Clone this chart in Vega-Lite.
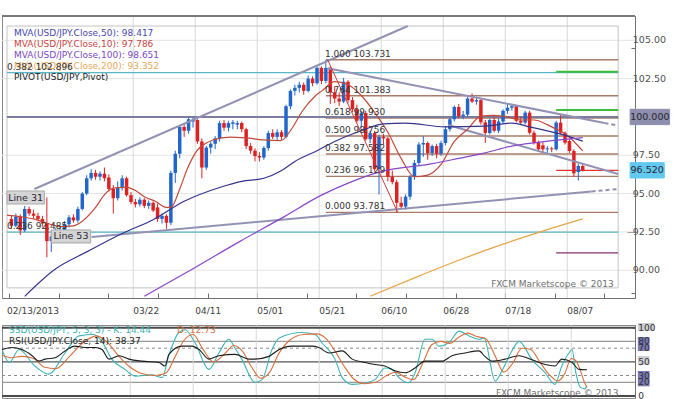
{
  "$schema": "https://vega.github.io/schema/vega-lite/v6.json",
  "background": "white",
  "padding": {"left": 0, "top": 14, "right": 0, "bottom": 0},
  "config": {
    "font": "DejaVu Sans",
    "view": {"stroke": "#8a8a8a", "strokeWidth": 1},
    "axis": {"labelFont": "DejaVu Sans", "title": null, "labelOverlap": false}
  },
  "spacing": 27,
  "bounds": "flush",
  "datasets": {
    "candles": [
      {"i":-1,"o":93.35,"h":93.6,"l":92.7,"c":92.9},
      {"i":0,"o":92.9,"h":93.7,"l":92.8,"c":93.5},
      {"i":1,"o":93.5,"h":93.65,"l":92.3,"c":92.6},
      {"i":2,"o":92.6,"h":94.2,"l":92.5,"c":94.0},
      {"i":3,"o":94.0,"h":94.15,"l":93.55,"c":93.7},
      {"i":4,"o":93.7,"h":93.95,"l":93.4,"c":93.55},
      {"i":5,"o":93.55,"h":93.75,"l":93.2,"c":93.35},
      {"i":6,"o":93.35,"h":93.55,"l":92.85,"c":93.05},
      {"i":7,"o":93.05,"h":94.75,"l":90.85,"c":91.9},
      {"i":8,"o":91.9,"h":92.4,"l":91.2,"c":92.2},
      {"i":9,"o":92.2,"h":92.75,"l":91.8,"c":92.45},
      {"i":10,"o":92.45,"h":92.8,"l":92.1,"c":92.6},
      {"i":11,"o":92.6,"h":93.2,"l":92.4,"c":93.0},
      {"i":12,"o":93.0,"h":93.6,"l":92.8,"c":93.45},
      {"i":13,"o":93.45,"h":93.65,"l":93.1,"c":93.25},
      {"i":14,"o":93.25,"h":94.15,"l":93.1,"c":94.0},
      {"i":15,"o":94.0,"h":95.1,"l":93.9,"c":95.0},
      {"i":16,"o":95.0,"h":96.2,"l":94.9,"c":96.0},
      {"i":17,"o":96.0,"h":96.6,"l":95.85,"c":96.35},
      {"i":18,"o":96.35,"h":96.55,"l":95.9,"c":96.1},
      {"i":19,"o":96.1,"h":96.45,"l":95.85,"c":96.3},
      {"i":20,"o":96.3,"h":96.7,"l":95.8,"c":96.0},
      {"i":21,"o":96.05,"h":96.25,"l":95.15,"c":95.3},
      {"i":22,"o":95.3,"h":95.55,"l":93.7,"c":94.7},
      {"i":23,"o":94.7,"h":95.8,"l":94.55,"c":95.4},
      {"i":24,"o":95.4,"h":96.2,"l":95.2,"c":96.0},
      {"i":25,"o":96.0,"h":96.1,"l":94.8,"c":94.9},
      {"i":26,"o":94.9,"h":95.1,"l":94.3,"c":94.45},
      {"i":27,"o":94.45,"h":94.65,"l":94.1,"c":94.3},
      {"i":28,"o":94.3,"h":94.75,"l":94.15,"c":94.6},
      {"i":29,"o":94.6,"h":94.7,"l":94.05,"c":94.2},
      {"i":30,"o":94.2,"h":94.55,"l":94.0,"c":94.4},
      {"i":31,"o":94.4,"h":94.5,"l":93.8,"c":93.9},
      {"i":32,"o":94.1,"h":94.35,"l":93.15,"c":93.35},
      {"i":33,"o":93.35,"h":93.7,"l":93.05,"c":93.55},
      {"i":34,"o":93.55,"h":93.65,"l":92.7,"c":93.1},
      {"i":35,"o":93.1,"h":96.5,"l":92.95,"c":96.35},
      {"i":36,"o":96.35,"h":97.8,"l":95.7,"c":97.6},
      {"i":37,"o":97.6,"h":99.45,"l":97.3,"c":99.35},
      {"i":38,"o":99.35,"h":99.55,"l":98.7,"c":99.1},
      {"i":39,"o":99.1,"h":99.95,"l":98.9,"c":99.85},
      {"i":40,"o":99.7,"h":99.95,"l":99.3,"c":99.8},
      {"i":41,"o":99.8,"h":99.85,"l":98.25,"c":98.4},
      {"i":42,"o":98.4,"h":98.6,"l":96.0,"c":96.7},
      {"i":43,"o":96.7,"h":98.1,"l":96.55,"c":98.0},
      {"i":44,"o":98.0,"h":98.4,"l":97.6,"c":98.25},
      {"i":45,"o":98.25,"h":98.75,"l":97.9,"c":98.6},
      {"i":46,"o":98.6,"h":99.75,"l":98.4,"c":99.6},
      {"i":47,"o":99.6,"h":99.8,"l":99.1,"c":99.3},
      {"i":48,"o":99.3,"h":99.75,"l":99.05,"c":99.6},
      {"i":49,"o":99.55,"h":99.8,"l":99.2,"c":99.65},
      {"i":50,"o":99.5,"h":99.75,"l":99.2,"c":99.6},
      {"i":51,"o":99.6,"h":99.7,"l":99.0,"c":99.2},
      {"i":52,"o":99.2,"h":99.3,"l":97.9,"c":98.1},
      {"i":53,"o":98.1,"h":98.3,"l":97.6,"c":97.8},
      {"i":54,"o":97.8,"h":97.95,"l":97.1,"c":97.45},
      {"i":55,"o":97.45,"h":97.7,"l":97.1,"c":97.35},
      {"i":56,"o":97.35,"h":98.1,"l":97.2,"c":97.97},
      {"i":57,"o":97.97,"h":99.1,"l":97.8,"c":98.95},
      {"i":58,"o":98.95,"h":99.2,"l":98.55,"c":98.7},
      {"i":59,"o":98.7,"h":99.2,"l":98.5,"c":99.0},
      {"i":60,"o":99.0,"h":99.15,"l":98.5,"c":98.7},
      {"i":61,"o":98.7,"h":100.8,"l":98.6,"c":100.7},
      {"i":62,"o":100.7,"h":101.8,"l":100.5,"c":101.7},
      {"i":63,"o":101.7,"h":102.1,"l":101.4,"c":101.9},
      {"i":64,"o":101.9,"h":102.3,"l":101.6,"c":102.1},
      {"i":65,"o":102.1,"h":102.25,"l":101.45,"c":101.7},
      {"i":66,"o":101.7,"h":102.7,"l":101.6,"c":102.5},
      {"i":67,"o":102.5,"h":102.65,"l":102.0,"c":102.2},
      {"i":68,"o":102.2,"h":103.3,"l":102.1,"c":103.2},
      {"i":69,"o":103.2,"h":103.3,"l":102.15,"c":102.35},
      {"i":70,"o":102.35,"h":103.73,"l":102.2,"c":103.2},
      {"i":71,"o":103.2,"h":103.3,"l":100.85,"c":101.6},
      {"i":72,"o":101.6,"h":101.95,"l":100.9,"c":101.2},
      {"i":73,"o":101.2,"h":101.6,"l":100.7,"c":101.0},
      {"i":74,"o":101.0,"h":102.55,"l":100.9,"c":102.3},
      {"i":75,"o":102.3,"h":102.4,"l":100.9,"c":101.1},
      {"i":76,"o":101.1,"h":101.3,"l":100.3,"c":100.5},
      {"i":77,"o":100.5,"h":100.8,"l":99.6,"c":99.75},
      {"i":78,"o":99.75,"h":100.4,"l":99.3,"c":100.25},
      {"i":79,"o":100.25,"h":100.4,"l":98.45,"c":98.55},
      {"i":80,"o":98.55,"h":99.1,"l":98.3,"c":98.95},
      {"i":81,"o":98.95,"h":99.1,"l":96.45,"c":96.6},
      {"i":82,"o":96.6,"h":98.85,"l":94.95,"c":98.7},
      {"i":83,"o":98.7,"h":98.9,"l":98.2,"c":98.6},
      {"i":84,"o":98.6,"h":98.7,"l":95.8,"c":96.1},
      {"i":85,"o":96.1,"h":96.5,"l":95.6,"c":95.75},
      {"i":86,"o":95.75,"h":95.9,"l":93.78,"c":94.4},
      {"i":87,"o":94.4,"h":94.8,"l":94.0,"c":94.15},
      {"i":88,"o":94.15,"h":94.95,"l":93.95,"c":94.8},
      {"i":89,"o":94.8,"h":96.2,"l":94.6,"c":96.1},
      {"i":90,"o":96.1,"h":97.2,"l":95.9,"c":97.0},
      {"i":91,"o":97.0,"h":98.35,"l":96.85,"c":98.2},
      {"i":92,"o":98.2,"h":98.75,"l":97.4,"c":98.3},
      {"i":93,"o":98.3,"h":98.4,"l":97.2,"c":97.65},
      {"i":94,"o":97.65,"h":98.2,"l":97.45,"c":98.1},
      {"i":95,"o":98.1,"h":98.25,"l":97.3,"c":97.6},
      {"i":96,"o":97.6,"h":98.45,"l":97.45,"c":98.3},
      {"i":97,"o":98.3,"h":99.4,"l":98.15,"c":99.2},
      {"i":98,"o":99.2,"h":99.95,"l":99.05,"c":99.85},
      {"i":99,"o":99.85,"h":100.75,"l":99.7,"c":100.65},
      {"i":100,"o":100.65,"h":100.85,"l":99.9,"c":100.05},
      {"i":101,"o":100.05,"h":100.4,"l":99.85,"c":100.15},
      {"i":102,"o":100.15,"h":101.3,"l":100.0,"c":101.2},
      {"i":103,"o":101.2,"h":101.53,"l":100.9,"c":101.0},
      {"i":104,"o":101.0,"h":101.3,"l":100.8,"c":101.1},
      {"i":105,"o":101.1,"h":101.2,"l":99.5,"c":99.65},
      {"i":106,"o":99.65,"h":99.8,"l":98.3,"c":98.95},
      {"i":107,"o":98.95,"h":99.9,"l":98.85,"c":99.8},
      {"i":108,"o":99.8,"h":100.0,"l":99.0,"c":99.1},
      {"i":109,"o":99.1,"h":99.9,"l":98.95,"c":99.7},
      {"i":110,"o":99.7,"h":100.5,"l":99.55,"c":100.4},
      {"i":111,"o":100.4,"h":100.85,"l":100.2,"c":100.6},
      {"i":112,"o":100.6,"h":100.8,"l":100.4,"c":100.7},
      {"i":113,"o":100.7,"h":100.75,"l":99.65,"c":99.75},
      {"i":114,"o":99.75,"h":100.0,"l":99.5,"c":99.63},
      {"i":115,"o":99.63,"h":100.4,"l":99.5,"c":100.28},
      {"i":116,"o":100.28,"h":100.4,"l":98.85,"c":98.97},
      {"i":117,"o":98.97,"h":99.1,"l":98.2,"c":98.32},
      {"i":118,"o":98.32,"h":98.45,"l":97.75,"c":97.89},
      {"i":119,"o":98.15,"h":98.35,"l":97.7,"c":97.89},
      {"i":120,"o":97.89,"h":98.1,"l":97.6,"c":97.95},
      {"i":121,"o":97.95,"h":98.05,"l":97.7,"c":97.89},
      {"i":122,"o":97.89,"h":99.75,"l":97.8,"c":99.63},
      {"i":123,"o":99.63,"h":100.2,"l":98.85,"c":98.97},
      {"i":124,"o":98.97,"h":99.05,"l":98.2,"c":98.32},
      {"i":125,"o":98.43,"h":98.55,"l":97.65,"c":97.78},
      {"i":126,"o":97.78,"h":97.9,"l":96.1,"c":96.32},
      {"i":127,"o":96.41,"h":96.95,"l":95.85,"c":96.8},
      {"i":128,"o":96.8,"h":96.95,"l":96.45,"c":96.52}
    ],
    "ma": [
      {"s":"MVA10","i":-2,"v":93.6},{"s":"MVA10","i":1,"v":93.5},{"s":"MVA10","i":4,"v":93.35},{"s":"MVA10","i":7.6,"v":93.02},{"s":"MVA10","i":10,"v":92.85},{"s":"MVA10","i":12.9,"v":92.89},{"s":"MVA10","i":15,"v":93.2},{"s":"MVA10","i":18,"v":94.1},{"s":"MVA10","i":20.2,"v":95.0},{"s":"MVA10","i":22.4,"v":95.37},{"s":"MVA10","i":25,"v":95.4},{"s":"MVA10","i":27,"v":95.2},{"s":"MVA10","i":29,"v":94.8},{"s":"MVA10","i":31.5,"v":94.5},{"s":"MVA10","i":34,"v":94.1},{"s":"MVA10","i":35,"v":94.1},{"s":"MVA10","i":37,"v":95.3},{"s":"MVA10","i":38.7,"v":96.6},{"s":"MVA10","i":40.9,"v":97.8},{"s":"MVA10","i":43,"v":98.3},{"s":"MVA10","i":44.5,"v":98.5},{"s":"MVA10","i":48.4,"v":98.69},{"s":"MVA10","i":52,"v":98.63},{"s":"MVA10","i":55.8,"v":98.5},{"s":"MVA10","i":59.8,"v":98.45},{"s":"MVA10","i":62.4,"v":99.28},{"s":"MVA10","i":64.7,"v":100.39},{"s":"MVA10","i":67.6,"v":101.37},{"s":"MVA10","i":69.1,"v":101.7},{"s":"MVA10","i":72,"v":102.3},{"s":"MVA10","i":75,"v":102.1},{"s":"MVA10","i":78,"v":101.4},{"s":"MVA10","i":81,"v":100.3},{"s":"MVA10","i":84,"v":99.0},{"s":"MVA10","i":87,"v":97.3},{"s":"MVA10","i":90,"v":96.1},{"s":"MVA10","i":93,"v":96.2},{"s":"MVA10","i":96,"v":96.9},{"s":"MVA10","i":99,"v":98.4},{"s":"MVA10","i":102,"v":99.2},{"s":"MVA10","i":105,"v":100.05},{"s":"MVA10","i":108,"v":100.1},{"s":"MVA10","i":111,"v":100.0},{"s":"MVA10","i":114,"v":99.8},{"s":"MVA10","i":117,"v":99.8},{"s":"MVA10","i":120,"v":99.5},{"s":"MVA10","i":122,"v":99.2},{"s":"MVA10","i":124,"v":98.9},{"s":"MVA10","i":126,"v":98.4},{"s":"MVA10","i":128,"v":97.79},
      {"s":"MVA50","i":2,"v":88.3},{"s":"MVA50","i":9,"v":90.1},{"s":"MVA50","i":16,"v":91.2},{"s":"MVA50","i":24,"v":92.4},{"s":"MVA50","i":31,"v":93.3},{"s":"MVA50","i":38,"v":94.5},{"s":"MVA50","i":46,"v":95.4},{"s":"MVA50","i":51,"v":95.8},{"s":"MVA50","i":56,"v":96.0},{"s":"MVA50","i":60,"v":96.5},{"s":"MVA50","i":63,"v":97.1},{"s":"MVA50","i":68,"v":97.8},{"s":"MVA50","i":72,"v":98.4},{"s":"MVA50","i":78,"v":99.1},{"s":"MVA50","i":83,"v":99.55},{"s":"MVA50","i":88,"v":99.6},{"s":"MVA50","i":97,"v":99.35},{"s":"MVA50","i":106,"v":99.4},{"s":"MVA50","i":112,"v":99.6},{"s":"MVA50","i":116,"v":99.35},{"s":"MVA50","i":124,"v":98.8},{"s":"MVA50","i":128,"v":98.42},
      {"s":"MVA100","i":29,"v":88.3},{"s":"MVA100","i":40,"v":90.1},{"s":"MVA100","i":50.7,"v":91.9},{"s":"MVA100","i":60,"v":93.4},{"s":"MVA100","i":69,"v":94.9},{"s":"MVA100","i":76,"v":95.8},{"s":"MVA100","i":82,"v":96.4},{"s":"MVA100","i":94,"v":96.95},{"s":"MVA100","i":100,"v":97.3},{"s":"MVA100","i":106,"v":97.66},{"s":"MVA100","i":112,"v":98.1},{"s":"MVA100","i":121,"v":98.45},{"s":"MVA100","i":128,"v":98.65},
      {"s":"MVA200","i":80,"v":88.3},{"s":"MVA200","i":90,"v":89.5},{"s":"MVA200","i":100,"v":90.65},{"s":"MVA200","i":110,"v":91.7},{"s":"MVA200","i":120,"v":92.65},{"s":"MVA200","i":128,"v":93.35}
    ],
    "levels": [
      {"id":"lv100","k":"thick100","i":-2,"p":100},{"id":"lv100","k":"thick100","i":136,"p":100},
      {"id":"cy1","k":"cyan","i":-2,"p":102.896},{"id":"cy1","k":"cyan","i":136,"p":102.896},
      {"id":"cy2","k":"cyan","i":-2,"p":92.485},{"id":"cy2","k":"cyan","i":136,"p":92.485},
      {"id":"f100","k":"fib","i":70,"p":103.731},{"id":"f100","k":"fib","i":136,"p":103.731},
      {"id":"f764","k":"fib","i":70,"p":101.383},{"id":"f764","k":"fib","i":136,"p":101.383},
      {"id":"f618","k":"fib","i":70,"p":99.93},{"id":"f618","k":"fib","i":136,"p":99.93},
      {"id":"f500","k":"fib","i":70,"p":98.756},{"id":"f500","k":"fib","i":136,"p":98.756},
      {"id":"f382","k":"fib","i":70,"p":97.582},{"id":"f382","k":"fib","i":136,"p":97.582},
      {"id":"f236","k":"fib","i":70,"p":96.129},{"id":"f236","k":"fib","i":136,"p":96.129},
      {"id":"f000","k":"fib","i":70,"p":93.781},{"id":"f000","k":"fib","i":136,"p":93.781},
      {"id":"pg1","k":"pgreen","i":122,"p":102.95},{"id":"pg1","k":"pgreen","i":136,"p":102.95},
      {"id":"pg2","k":"pgreen","i":122,"p":100.45},{"id":"pg2","k":"pgreen","i":136,"p":100.45},
      {"id":"pr","k":"pred","i":122,"p":96.52},{"id":"pr","k":"pred","i":136,"p":96.52},
      {"id":"pp","k":"ppurple","i":122,"p":91.13},{"id":"pp","k":"ppurple","i":136,"p":91.13}
    ],
    "trends": [
      {"id":"t1","k":"trend","i":4.2,"p":95.3},{"id":"t1","k":"trend","i":88.5,"p":105.93},
      {"id":"t2","k":"trend","i":17.1,"p":92.17},{"id":"t2","k":"trend","i":130,"p":95.14},
      {"id":"t2d","k":"tdash","i":130,"p":95.14},{"id":"t2d","k":"tdash","i":136,"p":95.3},
      {"id":"t3","k":"trend","i":70.4,"p":103.18},{"id":"t3","k":"trend","i":132.9,"p":99.61},
      {"id":"t3d","k":"tdash","i":132.9,"p":99.61},{"id":"t3d","k":"tdash","i":136,"p":99.43},
      {"id":"t4","k":"trend","i":97.6,"p":99.47},{"id":"t4","k":"trend","i":136,"p":96.28},
      {"id":"fd","k":"fdiag","i":70.4,"p":103.731},{"id":"fd","k":"fdiag","i":86.2,"p":93.781}
    ],
    "dates": [
      {"i":26.5,"t":"03/22"},{"i":40.5,"t":"04/11"},{"i":54.5,"t":"05/01"},{"i":68.5,"t":"05/21"},
      {"i":82.5,"t":"06/10"},{"i":96.5,"t":"06/28"},{"i":110.5,"t":"07/18"},{"i":124.5,"t":"08/07"}
    ],
    "xlabels": [
      {"i":-2,"t":"02/13/2013"},{"i":26.5,"t":"03/22"},{"i":40.5,"t":"04/11"},{"i":54.5,"t":"05/01"},{"i":68.5,"t":"05/21"},
      {"i":82.5,"t":"06/10"},{"i":96.5,"t":"06/28"},{"i":110.5,"t":"07/18"},{"i":124.5,"t":"08/07"}
    ],
    "ylabels": [
      {"p":90,"t":"90.00"},{"p":92.5,"t":"92.50"},{"p":95,"t":"95.00"},{"p":97.5,"t":"97.50"},{"p":102.5,"t":"102.50"},{"p":105,"t":"105.00"}
    ],
    "boxes": [
      {"k":"tag","x1":-2,"x2":6.44,"y1":94.32,"y2":95.17},
      {"k":"tag","x1":8,"x2":16.9,"y1":91.78,"y2":92.63},
      {"k":"p100","x1":138.7,"x2":147.6,"y1":99.5,"y2":100.5},
      {"k":"pcur","x1":138.7,"x2":146.4,"y1":96.02,"y2":97.02}
    ],
    "boxlabels": [
      {"i":2.2,"p":94.745,"text":"Line 31"},
      {"i":12.45,"p":92.205,"text":"Line 53"},
      {"i":143.15,"p":100,"text":"100.000"},
      {"i":142.55,"p":96.52,"text":"96.520"}
    ],
    "legend": [
      {"i":-0.44,"p":105.47,"s":"MVA50","text":"MVA(USD/JPY.Close,50): 98.417"},
      {"i":-0.44,"p":104.76,"s":"MVA10","text":"MVA(USD/JPY.Close,10): 97.786"},
      {"i":-0.44,"p":104.05,"s":"MVA100","text":"MVA(USD/JPY.Close,100): 98.651"},
      {"i":-0.44,"p":103.33,"s":"MVA200","text":"MVA(USD/JPY.Close,200): 93.352"},
      {"i":-0.44,"p":102.62,"s":"PIVOT","text":"PIVOT(USD/JPY,Pivot)"}
    ],
    "fiblabels": [
      {"i":69.8,"p":103.731,"text":"1.000 103.731"},
      {"i":69.8,"p":101.383,"text":"0.764 101.383"},
      {"i":69.8,"p":99.93,"text":"0.618 99.930"},
      {"i":69.8,"p":98.756,"text":"0.500 98.756"},
      {"i":69.8,"p":97.582,"text":"0.382 97.582"},
      {"i":69.8,"p":96.129,"text":"0.236 96.129"},
      {"i":69.8,"p":93.781,"text":"0.000 93.781"},
      {"i":-2,"p":102.896,"text":"0.382 102.896"},
      {"i":-2,"p":92.485,"text":"0.236 92.485"}
    ],
    "osc": [
      {"s":"K","i":-2,"v":68},{"s":"K","i":-0.4,"v":49},{"s":"K","i":1.8,"v":68},{"s":"K","i":5.3,"v":44},{"s":"K","i":8.4,"v":32},{"s":"K","i":12,"v":63},{"s":"K","i":15.1,"v":88},{"s":"K","i":18.4,"v":90},{"s":"K","i":20.2,"v":80},{"s":"K","i":22.4,"v":54},{"s":"K","i":25.3,"v":39},{"s":"K","i":27.6,"v":29},{"s":"K","i":31.3,"v":31},{"s":"K","i":33.6,"v":27},{"s":"K","i":35.1,"v":60},{"s":"K","i":37.3,"v":93},{"s":"K","i":38.7,"v":97},{"s":"K","i":40.9,"v":78},{"s":"K","i":44,"v":39},{"s":"K","i":46.2,"v":63},{"s":"K","i":48.4,"v":83},{"s":"K","i":49.8,"v":70},{"s":"K","i":51.3,"v":54},{"s":"K","i":54.2,"v":20},{"s":"K","i":55.8,"v":24},{"s":"K","i":58,"v":68},{"s":"K","i":59.6,"v":85},{"s":"K","i":64.7,"v":93},{"s":"K","i":67.6,"v":90},{"s":"K","i":69.1,"v":78},{"s":"K","i":72,"v":54},{"s":"K","i":73.6,"v":27},{"s":"K","i":75.8,"v":17},{"s":"K","i":78.7,"v":19},{"s":"K","i":80.9,"v":24},{"s":"K","i":83.1,"v":41},{"s":"K","i":84.7,"v":39},{"s":"K","i":86.2,"v":27},{"s":"K","i":88.4,"v":19.5},{"s":"K","i":89.8,"v":34},{"s":"K","i":92,"v":83},{"s":"K","i":93.6,"v":83},{"s":"K","i":95.1,"v":73},{"s":"K","i":97.3,"v":78},{"s":"K","i":99.6,"v":95},{"s":"K","i":101.8,"v":88},{"s":"K","i":104,"v":83},{"s":"K","i":105.1,"v":85},{"s":"K","i":107.6,"v":22},{"s":"K","i":109.1,"v":37},{"s":"K","i":111.3,"v":66},{"s":"K","i":112.9,"v":80},{"s":"K","i":115.8,"v":53},{"s":"K","i":118.7,"v":34},{"s":"K","i":120.9,"v":17},{"s":"K","i":122.4,"v":44},{"s":"K","i":124,"v":63},{"s":"K","i":124.7,"v":68},{"s":"K","i":125.5,"v":35},{"s":"K","i":126.5,"v":13},{"s":"K","i":127.5,"v":10.5},{"s":"K","i":128,"v":14.44},
      {"s":"D","i":-2,"v":60},{"s":"D","i":0,"v":56},{"s":"D","i":2.5,"v":58},{"s":"D","i":5,"v":55},{"s":"D","i":7.5,"v":42},{"s":"D","i":10,"v":40},{"s":"D","i":13,"v":58},{"s":"D","i":16,"v":78},{"s":"D","i":19,"v":88},{"s":"D","i":21.5,"v":78},{"s":"D","i":24,"v":58},{"s":"D","i":26.5,"v":42},{"s":"D","i":29,"v":33},{"s":"D","i":32,"v":30},{"s":"D","i":34.5,"v":34},{"s":"D","i":36.5,"v":58},{"s":"D","i":38.5,"v":82},{"s":"D","i":40.5,"v":90},{"s":"D","i":42.5,"v":70},{"s":"D","i":45,"v":50},{"s":"D","i":47.5,"v":62},{"s":"D","i":49.5,"v":74},{"s":"D","i":51.5,"v":65},{"s":"D","i":53.5,"v":42},{"s":"D","i":55.5,"v":26},{"s":"D","i":57.5,"v":35},{"s":"D","i":59.5,"v":62},{"s":"D","i":62,"v":82},{"s":"D","i":65,"v":90},{"s":"D","i":68,"v":91},{"s":"D","i":70,"v":84},{"s":"D","i":72,"v":66},{"s":"D","i":74,"v":44},{"s":"D","i":76,"v":26},{"s":"D","i":78.5,"v":18},{"s":"D","i":81,"v":20},{"s":"D","i":83.5,"v":30},{"s":"D","i":85.5,"v":35},{"s":"D","i":87.5,"v":28},{"s":"D","i":89.5,"v":24},{"s":"D","i":91.5,"v":48},{"s":"D","i":93.5,"v":75},{"s":"D","i":95.5,"v":80},{"s":"D","i":97.5,"v":77},{"s":"D","i":99.5,"v":86},{"s":"D","i":101.5,"v":92},{"s":"D","i":103.5,"v":87},{"s":"D","i":105.5,"v":84},{"s":"D","i":107.5,"v":60},{"s":"D","i":109.5,"v":35},{"s":"D","i":111.5,"v":48},{"s":"D","i":113.5,"v":70},{"s":"D","i":115.5,"v":68},{"s":"D","i":117.5,"v":50},{"s":"D","i":119.5,"v":32},{"s":"D","i":121.5,"v":22},{"s":"D","i":123,"v":32},{"s":"D","i":124.5,"v":55},{"s":"D","i":125.5,"v":52},{"s":"D","i":126.5,"v":38},{"s":"D","i":127.5,"v":19},{"s":"D","i":128,"v":12.73},
      {"s":"RSI","i":-2,"v":68},{"s":"RSI","i":0.2,"v":71},{"s":"RSI","i":2.4,"v":68},{"s":"RSI","i":4.7,"v":59},{"s":"RSI","i":6.2,"v":51},{"s":"RSI","i":7.6,"v":54},{"s":"RSI","i":9.8,"v":56},{"s":"RSI","i":12,"v":66},{"s":"RSI","i":14.2,"v":73},{"s":"RSI","i":16.4,"v":71},{"s":"RSI","i":18.7,"v":71},{"s":"RSI","i":20.2,"v":68},{"s":"RSI","i":21.8,"v":54},{"s":"RSI","i":24,"v":59},{"s":"RSI","i":26.2,"v":54},{"s":"RSI","i":29.1,"v":51},{"s":"RSI","i":32.9,"v":49},{"s":"RSI","i":34.2,"v":44},{"s":"RSI","i":35.1,"v":61},{"s":"RSI","i":38,"v":73},{"s":"RSI","i":40.2,"v":73},{"s":"RSI","i":41.8,"v":68},{"s":"RSI","i":44,"v":54},{"s":"RSI","i":46.2,"v":59},{"s":"RSI","i":49.8,"v":61},{"s":"RSI","i":52.9,"v":54},{"s":"RSI","i":54.2,"v":54},{"s":"RSI","i":57.3,"v":58},{"s":"RSI","i":59.6,"v":68},{"s":"RSI","i":62.4,"v":73},{"s":"RSI","i":66.9,"v":73},{"s":"RSI","i":68.4,"v":71},{"s":"RSI","i":70.7,"v":63},{"s":"RSI","i":73.6,"v":66},{"s":"RSI","i":75.8,"v":54},{"s":"RSI","i":78.7,"v":49},{"s":"RSI","i":80.9,"v":46},{"s":"RSI","i":83.1,"v":44},{"s":"RSI","i":85.3,"v":37},{"s":"RSI","i":87.6,"v":34},{"s":"RSI","i":89.8,"v":41},{"s":"RSI","i":92,"v":51},{"s":"RSI","i":95.8,"v":51},{"s":"RSI","i":98,"v":59},{"s":"RSI","i":100.9,"v":63},{"s":"RSI","i":104,"v":66},{"s":"RSI","i":105.3,"v":58},{"s":"RSI","i":106.9,"v":51},{"s":"RSI","i":109.8,"v":54},{"s":"RSI","i":112.9,"v":59},{"s":"RSI","i":115.8,"v":53},{"s":"RSI","i":118.7,"v":46},{"s":"RSI","i":120.9,"v":44},{"s":"RSI","i":122.4,"v":54},{"s":"RSI","i":124.7,"v":49},{"s":"RSI","i":126.2,"v":39},{"s":"RSI","i":128,"v":38.37}
    ],
    "osclevels": [
      {"v":100,"k":"edge"},{"v":80,"k":"solid"},{"v":70,"k":"dash"},{"v":50,"k":"mid"},{"v":30,"k":"dash"},{"v":20,"k":"solid"},{"v":0,"k":"edge"}
    ],
    "osclabels": [
      {"v":100,"t":"100"},{"v":80,"t":"80"},{"v":70,"t":"70"},{"v":50,"t":"50"},{"v":30,"t":"30"},{"v":20,"t":"20"},{"v":0,"t":"0"}
    ],
    "oscboxes": [
      {"k":"light","x1":139.3,"x2":142.9,"y1":95.2,"y2":106.9},
      {"k":"dark","x1":139.3,"x2":141.9,"y1":65.9,"y2":86.4},
      {"k":"light","x1":139.3,"x2":141.9,"y1":45.4,"y2":58.6},
      {"k":"dark","x1":139.3,"x2":141.9,"y1":14.2,"y2":36.6}
    ],
    "osctext": [
      {"i":-0.44,"v":96.6,"s":"K","text":"SSD(USD/JPY, 5, 3, 3) - K: 14.44"},
      {"i":36.9,"v":96.6,"s":"D","text":"D: 12.73"},
      {"i":-0.44,"v":80.5,"s":"RSI","text":"RSI(USD/JPY.Close, 14): 38.37"}
    ]
  },
  "vconcat": [
    {
      "width": 633,
      "height": 282,
      "resolve": {"scale": {"color": "independent", "fill": "independent", "stroke": "independent"}},
      "layer": [
        {
          "data": {"values": [{"p":90},{"p":92.5},{"p":95},{"p":97.5},{"p":102.5},{"p":105}]},
          "mark": {"type": "rule", "stroke": "#e4e4e4", "strokeWidth": 1},
          "encoding": {
            "y": {"field": "p", "type": "quantitative", "title": null,
              "scale": {"domain": [88.19, 106.585], "zero": false, "nice": false},
              "axis": {"orient": "right", "title": null, "grid": false, "labels": false,
                "values": [88.5,89,89.5,90,90.5,91,91.5,92,92.5,93,93.5,94,94.5,95,95.5,96,96.5,97,97.5,98,98.5,99,99.5,100,100.5,101,101.5,102,102.5,103,103.5,104,104.5,105,105.5,106,106.5],
                "tickSize": {"condition": {"test": "datum.value % 2.5 == 0", "value": -8}, "value": -4},
                "tickColor": "#707070", "domainColor": "#707070"}
            }
          }
        },
        {
          "data": {"name": "dates"},
          "mark": {"type": "rule", "stroke": "#d8d8d8", "strokeWidth": 1},
          "encoding": {
            "x": {"field": "i", "type": "quantitative", "title": null,
              "scale": {"domain": [-2, 138.67], "zero": false, "nice": false},
              "axis": {"orient": "bottom", "title": null, "grid": false, "labels": false,
                "values": [-1.5,1.3,4.1,6.9,9.7,12.5,15.3,18.1,20.9,23.7,26.5,29.3,32.1,34.9,37.7,40.5,43.3,46.1,48.9,51.7,54.5,57.3,60.1,62.9,65.7,68.5,71.3,74.1,76.9,79.7,82.5,85.3,88.1,90.9,93.7,96.5,99.3,102.1,104.9,107.7,110.5,113.3,116.1,118.9,121.7,124.5,127.3,130.1,132.9,135.7,138.5],
                "tickSize": -5, "tickColor": "#707070", "domainColor": "#707070"}
            }
          }
        },
        {
          "data": {"values": [{}]},
          "mark": {"type": "rect", "fillOpacity": 0, "stroke": "#c4c4c4", "strokeWidth": 1},
          "encoding": {
            "x": {"datum": -2, "type": "quantitative"},
            "x2": {"datum": 136},
            "y": {"datum": 88.85, "type": "quantitative"},
            "y2": {"datum": 105.93}
          }
        },
        {
          "data": {"name": "levels"},
          "transform": [{"filter": {"field": "k", "oneOf": ["cyan", "fib", "pred", "ppurple"]}}],
          "mark": {"type": "line", "strokeWidth": 1.3, "clip": true},
          "encoding": {
            "x": {"field": "i", "type": "quantitative", "title": null},
            "y": {"field": "p", "type": "quantitative", "title": null},
            "detail": {"field": "id"},
            "color": {"field": "k", "type": "nominal", "legend": null,
              "scale": {"domain": ["cyan", "fib", "pred", "ppurple"], "range": ["#58b6c6", "#a87c68", "#e03030", "#84306e"]}}
          }
        },
        {
          "data": {"name": "levels"},
          "transform": [{"filter": {"field": "k", "oneOf": ["thick100", "pgreen"]}}],
          "mark": {"type": "line", "strokeWidth": 2, "clip": true},
          "encoding": {
            "x": {"field": "i", "type": "quantitative", "title": null},
            "y": {"field": "p", "type": "quantitative", "title": null},
            "detail": {"field": "id"},
            "color": {"field": "k", "type": "nominal", "legend": null,
              "scale": {"domain": ["thick100", "pgreen"], "range": ["#7c7c9c", "#3cbc3c"]}}
          }
        },
        {
          "data": {"name": "candles"},
          "mark": {"type": "rule", "strokeWidth": 1},
          "encoding": {
            "x": {"field": "i", "type": "quantitative", "title": null},
            "y": {"field": "l", "type": "quantitative", "title": null},
            "y2": {"field": "h"},
            "color": {"condition": {"test": "datum.c >= datum.o", "value": "#2266cc"}, "value": "#dd2222"}
          }
        },
        {
          "data": {"name": "candles"},
          "mark": {"type": "bar", "width": 3.5},
          "encoding": {
            "x": {"field": "i", "type": "quantitative", "title": null},
            "y": {"field": "o", "type": "quantitative", "title": null},
            "y2": {"field": "c"},
            "color": {"condition": {"test": "datum.c >= datum.o", "value": "#2266cc"}, "value": "#dd2222"}
          }
        },
        {
          "data": {"name": "trends"},
          "transform": [{"filter": {"field": "k", "equal": "trend"}}],
          "mark": {"type": "line", "strokeWidth": 2, "stroke": "#9292b4", "clip": true},
          "encoding": {
            "x": {"field": "i", "type": "quantitative", "title": null},
            "y": {"field": "p", "type": "quantitative", "title": null},
            "detail": {"field": "id"}
          }
        },
        {
          "data": {"name": "trends"},
          "transform": [{"filter": {"field": "k", "equal": "tdash"}}],
          "mark": {"type": "line", "strokeWidth": 2, "stroke": "#9292b4", "strokeDash": [4, 3], "clip": true},
          "encoding": {
            "x": {"field": "i", "type": "quantitative", "title": null},
            "y": {"field": "p", "type": "quantitative", "title": null},
            "detail": {"field": "id"}
          }
        },
        {
          "data": {"name": "ma"},
          "mark": {"type": "line", "strokeWidth": 1.2, "interpolate": "monotone", "clip": true},
          "encoding": {
            "x": {"field": "i", "type": "quantitative", "title": null},
            "y": {"field": "v", "type": "quantitative", "title": null},
            "color": {"field": "s", "type": "nominal", "legend": null,
              "scale": {"domain": ["MVA10", "MVA50", "MVA100", "MVA200"], "range": ["#c24a3a", "#33338f", "#8a46c8", "#e8a444"]}}
          }
        },
        {
          "data": {"name": "trends"},
          "transform": [{"filter": {"field": "k", "equal": "fdiag"}}],
          "mark": {"type": "line", "strokeWidth": 1, "stroke": "#d03a3a", "clip": true},
          "encoding": {
            "x": {"field": "i", "type": "quantitative", "title": null},
            "y": {"field": "p", "type": "quantitative", "title": null},
            "detail": {"field": "id"}
          }
        },
        {
          "data": {"values": [{}]},
          "mark": {"type": "rule", "stroke": "#7a7a7a", "strokeWidth": 2},
          "encoding": {
            "y": {"datum": 106.585, "type": "quantitative"}
          }
        },
        {
          "data": {"name": "boxes"},
          "mark": {"type": "rect", "strokeWidth": 1, "clip": false},
          "encoding": {
            "x": {"field": "x1", "type": "quantitative", "title": null},
            "x2": {"field": "x2"},
            "y": {"field": "y1", "type": "quantitative", "title": null},
            "y2": {"field": "y2"},
            "fill": {"field": "k", "type": "nominal", "legend": null,
              "scale": {"domain": ["tag", "p100", "pcur"], "range": ["#d4d4d4", "#8e8eae", "#62c8f0"]}},
            "stroke": {"field": "k", "type": "nominal", "legend": null,
              "scale": {"domain": ["tag", "p100", "pcur"], "range": ["#a8a8a8", "#8e8eae", "#62c8f0"]}}
          }
        },
        {
          "data": {"name": "boxlabels"},
          "mark": {"type": "text", "fontSize": 9.5, "color": "#262630", "align": "center", "baseline": "middle", "clip": false},
          "encoding": {
            "x": {"field": "i", "type": "quantitative", "title": null},
            "y": {"field": "p", "type": "quantitative", "title": null},
            "text": {"field": "text"}
          }
        },
        {
          "data": {"name": "ylabels"},
          "mark": {"type": "text", "fontSize": 9.5, "color": "#505050", "align": "left", "baseline": "middle", "clip": false},
          "encoding": {
            "x": {"datum": 139.3, "type": "quantitative"},
            "y": {"field": "p", "type": "quantitative", "title": null},
            "text": {"field": "t"}
          }
        },
        {
          "data": {"name": "xlabels"},
          "mark": {"type": "text", "fontSize": 9, "color": "#404040", "align": "left", "baseline": "middle", "clip": false},
          "encoding": {
            "x": {"field": "i", "type": "quantitative", "title": null},
            "y": {"datum": 87.34, "type": "quantitative"},
            "text": {"field": "t"}
          }
        },
        {
          "data": {"name": "legend"},
          "mark": {"type": "text", "fontSize": 9, "align": "left", "baseline": "middle"},
          "encoding": {
            "x": {"field": "i", "type": "quantitative", "title": null},
            "y": {"field": "p", "type": "quantitative", "title": null},
            "text": {"field": "text"},
            "color": {"field": "s", "type": "nominal", "legend": null,
              "scale": {"domain": ["MVA50", "MVA10", "MVA100", "MVA200", "PIVOT"], "range": ["#4848b0", "#c84444", "#7a48c0", "#e8a858", "#202020"]}}
          }
        },
        {
          "data": {"name": "fiblabels"},
          "mark": {"type": "text", "fontSize": 9, "align": "left", "baseline": "alphabetic", "dy": -3, "color": "#333333"},
          "encoding": {
            "x": {"field": "i", "type": "quantitative", "title": null},
            "y": {"field": "p", "type": "quantitative", "title": null},
            "text": {"field": "text"}
          }
        },
        {
          "data": {"values": [{"i": 135, "p": 89.1, "text": "FXCM Marketscope © 2013"}]},
          "mark": {"type": "text", "fontSize": 9, "align": "right", "baseline": "middle", "color": "#707070"},
          "encoding": {
            "x": {"field": "i", "type": "quantitative", "title": null},
            "y": {"field": "p", "type": "quantitative", "title": null},
            "text": {"field": "text"}
          }
        }
      ]
    },
    {
      "width": 633,
      "height": 73,
      "resolve": {"scale": {"color": "independent", "fill": "independent", "stroke": "independent"}},
      "layer": [
        {
          "data": {"name": "osclevels"},
          "transform": [{"filter": {"field": "k", "oneOf": ["solid", "mid"]}}],
          "mark": {"type": "rule", "strokeWidth": 1.3},
          "encoding": {
            "y": {"field": "v", "type": "quantitative", "title": null,
              "scale": {"domain": [-2.93, 103.95], "zero": false, "nice": false},
              "axis": {"orient": "right", "title": null, "grid": false, "labels": false,
                "values": [0,10,20,30,40,50,60,70,80,90,100],
                "tickSize": -3, "tickColor": "#707070", "domainColor": "#707070"}
            },
            "color": {"field": "k", "type": "nominal", "legend": null,
              "scale": {"domain": ["solid", "mid"], "range": ["#9a9a9a", "#555555"]}}
          }
        },
        {
          "data": {"name": "dates"},
          "mark": {"type": "rule", "stroke": "#d8d8d8", "strokeWidth": 1},
          "encoding": {
            "x": {"field": "i", "type": "quantitative", "axis": null, "title": null,
              "scale": {"domain": [-2, 138.67], "zero": false, "nice": false}}
          }
        },
        {
          "data": {"name": "osclevels"},
          "transform": [{"filter": {"field": "k", "equal": "edge"}}],
          "mark": {"type": "rule", "strokeWidth": 2, "stroke": "#4a4a4a"},
          "encoding": {"y": {"field": "v", "type": "quantitative", "title": null}}
        },
        {
          "data": {"name": "osclevels"},
          "transform": [{"filter": {"field": "k", "equal": "dash"}}],
          "mark": {"type": "rule", "strokeWidth": 1, "stroke": "#8a8a8a", "strokeDash": [3, 3]},
          "encoding": {"y": {"field": "v", "type": "quantitative", "title": null}}
        },
        {
          "data": {"name": "oscboxes"},
          "mark": {"type": "rect", "clip": false},
          "encoding": {
            "x": {"field": "x1", "type": "quantitative", "axis": null, "title": null},
            "x2": {"field": "x2"},
            "y": {"field": "y1", "type": "quantitative", "title": null},
            "y2": {"field": "y2"},
            "fill": {"field": "k", "type": "nominal", "legend": null,
              "scale": {"domain": ["light", "dark"], "range": ["#cfcfcf", "#7a7ab0"]}}
          }
        },
        {
          "data": {"name": "osclabels"},
          "mark": {"type": "text", "fontSize": 9, "color": "#303040", "align": "left", "baseline": "middle", "clip": false},
          "encoding": {
            "x": {"datum": 139.4, "type": "quantitative", "axis": null},
            "y": {"field": "v", "type": "quantitative", "title": null},
            "text": {"field": "t"}
          }
        },
        {
          "data": {"name": "osc"},
          "mark": {"type": "line", "strokeWidth": 1.1, "interpolate": "monotone", "clip": true},
          "encoding": {
            "x": {"field": "i", "type": "quantitative", "axis": null, "title": null},
            "y": {"field": "v", "type": "quantitative", "title": null},
            "color": {"field": "s", "type": "nominal", "legend": null,
              "scale": {"domain": ["K", "D", "RSI"], "range": ["#3cb4b4", "#d8703c", "#1c1c1c"]}}
          }
        },
        {
          "data": {"name": "osctext"},
          "mark": {"type": "text", "fontSize": 9, "align": "left", "baseline": "middle"},
          "encoding": {
            "x": {"field": "i", "type": "quantitative", "axis": null, "title": null},
            "y": {"field": "v", "type": "quantitative", "title": null},
            "text": {"field": "text"},
            "color": {"field": "s", "type": "nominal", "legend": null,
              "scale": {"domain": ["K", "D", "RSI"], "range": ["#3cb4b4", "#d8703c", "#1c1c1c"]}}
          }
        },
        {
          "data": {"values": [{"i": 135, "v": 4.4, "text": "FXCM Marketscope © 2013"}]},
          "mark": {"type": "text", "fontSize": 9, "align": "right", "baseline": "middle", "color": "#707070"},
          "encoding": {
            "x": {"field": "i", "type": "quantitative", "axis": null, "title": null},
            "y": {"field": "v", "type": "quantitative", "title": null},
            "text": {"field": "text"}
          }
        }
      ]
    }
  ]
}
